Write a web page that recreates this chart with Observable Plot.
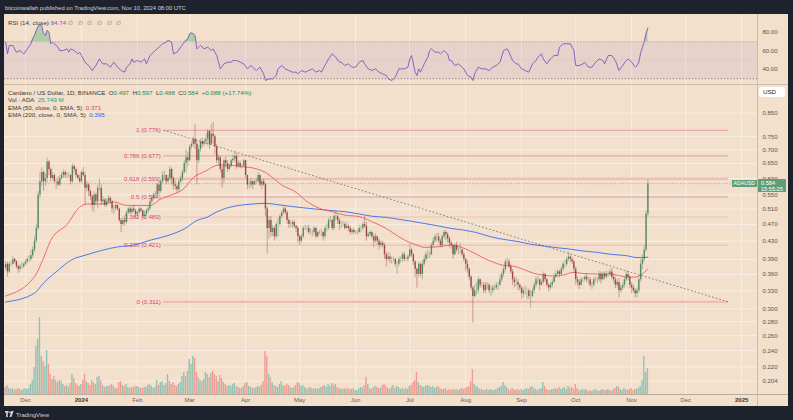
<!DOCTYPE html>
<html><head><meta charset="utf-8">
<script src="https://cdn.jsdelivr.net/npm/d3@7"></script>
<script src="https://cdn.jsdelivr.net/npm/@observablehq/plot@0.6"></script>
<style>
html,body{margin:0;padding:0;background:#1e222d;}
#wrap{position:relative;width:793px;height:420px;background:#1e222d;overflow:hidden;font-family:"Liberation Sans",Arial,sans-serif;}
#panel{position:absolute;left:4px;top:14px;width:784px;height:392px;background:#f2dfcc;}
.layer{position:absolute;left:0;top:0;}
.t{position:absolute;white-space:nowrap;font-size:6.2px;line-height:7.5px;color:#3d3a37;}
.ln{position:absolute;}
</style></head><body><div id="wrap"><div id="panel"></div></div>
<script>
// ---------- data ----------
const DAY = 864e5;
const firstDay = Date.UTC(2023, 10, 20);          // first daily candle: 2023-11-20
const firstOpen = 0.372;
const closes = [
.380,.365,.380,.380,.390,.385,.375,.370,.375,.375,.380,
.385,.390,.390,.398,.410,.430,.460,.550,.590,.620,.590,.600,.655,.630,.600,.610,.590,.590,.580,.600,.610,.620,.610,.610,.610,.590,.640,.630,.610,.600,.590,
.620,.610,.570,.580,.560,.545,.520,.550,.530,.570,.570,.530,.535,.520,.530,.540,.530,.510,.510,.520,.510,.480,.470,.480,.475,.500,.510,.500,.510,.505,.495,
.500,.510,.505,.490,.495,.505,.510,.530,.540,.550,.550,.580,.560,.590,.610,.610,.590,.600,.630,.600,.580,.575,.565,.590,.600,.620,.650,.670,.660,
.710,.720,.740,.720,.660,.700,.730,.720,.730,.740,.770,.720,.760,.750,.710,.660,.670,.630,.600,.660,.650,.630,.640,.660,.665,.675,.640,.650,.640,.640,.660,
.610,.580,.580,.590,.580,.590,.590,.610,.580,.590,.580,.510,.460,.480,.450,.460,.440,.470,.470,.490,.500,.510,.500,.480,.470,.470,.475,.465,.460,.440,
.430,.440,.460,.460,.460,.450,.450,.450,.460,.440,.450,.450,.450,.440,.460,.460,.480,.480,.460,.490,.490,.480,.470,.470,.470,.460,.465,.460,.450,.455,.450,
.450,.450,.460,.460,.470,.465,.440,.445,.450,.440,.430,.440,.430,.420,.425,.420,.400,.390,.395,.390,.390,.390,.380,.380,.390,.390,.400,.390,.390,.395,
.410,.400,.385,.370,.360,.380,.360,.380,.390,.400,.400,.400,.420,.430,.440,.440,.430,.420,.440,.450,.445,.435,.425,.420,.400,.420,.410,.410,.410,.400,.390,
.380,.370,.355,.335,.320,.330,.330,.350,.340,.340,.330,.340,.340,.330,.330,.335,.335,.340,.340,.350,.360,.370,.385,.385,.375,.365,.350,.345,.345,.340,.335,
.325,.330,.330,.330,.320,.320,.330,.340,.350,.350,.340,.345,.360,.350,.340,.335,.340,.345,.355,.360,.365,.360,.370,.380,.380,.390,.395,.390,.385,.370,
.350,.345,.340,.350,.350,.355,.350,.350,.340,.340,.350,.350,.350,.360,.350,.360,.355,.360,.360,.365,.355,.350,.340,.345,.330,.335,.340,.350,.360,.355,.340,
.335,.330,.325,.330,.350,.380,.390,.410,.497,.584];
const highs = [
.386,.384,.384,.386,.396,.392,.388,.378,.380,.384,.383,
.390,.395,.398,.410,.418,.440,.470,.560,.620,.635,.625,.615,.668,.660,.635,.620,.615,.600,.605,.610,.620,.628,.625,.620,.618,.612,.650,.646,.635,.615,.610,
.625,.635,.620,.590,.585,.565,.550,.560,.555,.580,.600,.580,.545,.540,.538,.548,.545,.535,.520,.525,.522,.512,.485,.488,.485,.505,.515,.515,.515,.520,.510,
.505,.515,.512,.508,.505,.510,.518,.538,.548,.555,.560,.585,.590,.595,.622,.625,.612,.610,.640,.635,.605,.592,.580,.595,.608,.628,.660,.700,.690,
.718,.730,.750,.800,.740,.715,.740,.745,.738,.760,.780,.775,.800,.810,.755,.720,.680,.675,.640,.665,.672,.660,.648,.665,.680,.690,.685,.660,.658,.648,.665,
.662,.612,.592,.600,.592,.595,.600,.620,.612,.595,.598,.585,.515,.490,.490,.468,.465,.475,.485,.495,.505,.515,.515,.505,.485,.478,.480,.480,.468,.465,
.445,.445,.465,.468,.466,.468,.460,.455,.465,.462,.452,.455,.458,.452,.465,.470,.485,.490,.482,.495,.506,.495,.485,.476,.478,.475,.475,.470,.465,.460,.460,
.455,.456,.468,.466,.475,.490,.475,.450,.455,.452,.445,.448,.442,.435,.430,.430,.425,.405,.405,.402,.395,.395,.392,.386,.395,.396,.405,.405,.395,.400,
.425,.415,.402,.388,.372,.385,.382,.388,.398,.405,.410,.405,.425,.438,.445,.448,.448,.435,.445,.455,.455,.450,.440,.430,.422,.425,.428,.415,.425,.412,.405,
.392,.388,.372,.358,.338,.340,.345,.355,.352,.345,.345,.345,.345,.343,.338,.340,.340,.345,.345,.360,.365,.375,.390,.392,.390,.380,.370,.355,.355,.350,.342,
.338,.335,.338,.335,.333,.330,.335,.345,.355,.356,.352,.350,.365,.362,.352,.342,.345,.350,.362,.366,.370,.368,.375,.385,.388,.395,.405,.398,.395,.388,
.375,.356,.350,.354,.354,.358,.362,.355,.354,.346,.354,.355,.354,.366,.365,.364,.365,.366,.365,.370,.372,.360,.355,.350,.352,.340,.344,.355,.366,.365,.358,
.345,.340,.334,.335,.355,.390,.400,.420,.505,.597];
const lows = [
.368,.355,.362,.375,.378,.381,.371,.362,.365,.370,.372,
.377,.382,.384,.386,.392,.405,.425,.455,.540,.575,.560,.575,.585,.610,.590,.595,.585,.565,.575,.575,.595,.600,.600,.600,.600,.580,.585,.620,.600,.595,.585,
.585,.605,.520,.560,.545,.535,.505,.500,.520,.510,.560,.520,.520,.515,.515,.525,.522,.500,.495,.505,.505,.475,.450,.465,.466,.470,.495,.495,.495,.500,.485,
.485,.495,.500,.485,.485,.490,.498,.505,.525,.535,.540,.545,.550,.555,.585,.595,.580,.585,.595,.580,.565,.565,.555,.560,.585,.590,.615,.620,.640,
.655,.700,.710,.700,.580,.650,.690,.705,.712,.720,.715,.700,.715,.720,.680,.650,.640,.620,.570,.585,.635,.620,.625,.635,.650,.655,.630,.635,.632,.632,.638,
.600,.565,.568,.570,.565,.578,.585,.588,.575,.565,.575,.490,.402,.435,.440,.440,.430,.435,.440,.465,.485,.495,.495,.470,.460,.462,.460,.460,.450,.425,
.420,.425,.437,.455,.452,.445,.445,.440,.445,.435,.438,.445,.440,.430,.435,.452,.455,.475,.455,.455,.478,.470,.455,.460,.465,.456,.458,.452,.445,.445,.445,
.446,.444,.448,.450,.455,.460,.430,.438,.440,.435,.415,.425,.420,.410,.415,.415,.390,.375,.385,.382,.380,.385,.375,.360,.375,.382,.385,.385,.386,.385,
.393,.395,.378,.355,.335,.355,.355,.350,.375,.385,.390,.392,.398,.415,.425,.428,.425,.415,.415,.435,.430,.425,.415,.412,.390,.398,.405,.400,.402,.395,.385,
.365,.362,.348,.330,.278,.318,.322,.325,.335,.335,.325,.325,.332,.325,.320,.325,.330,.332,.330,.338,.345,.355,.365,.378,.372,.360,.340,.335,.338,.330,.330,
.315,.318,.322,.315,.315,.300,.318,.325,.335,.342,.330,.338,.342,.345,.336,.328,.332,.335,.343,.352,.358,.354,.358,.366,.372,.376,.386,.384,.380,.362,
.340,.338,.332,.338,.345,.347,.345,.342,.336,.332,.336,.346,.343,.346,.342,.348,.350,.352,.355,.356,.350,.344,.334,.335,.318,.326,.330,.335,.346,.348,.334,
.325,.326,.318,.318,.326,.345,.370,.385,.405,.488];
const volumesM = [
7,9,6,5,6,4,5,6,5,4,5,6,5,6,
10,14,27,48,55,77,38,33,28,44,30,20,15,18,14,12,14,
13,10,8,9,7,11,20,16,11,9,8,
10,14,20,13,11,9,14,12,10,17,18,14,9,7,8,8,9,10,8,6,6,12,13,9,8,10,7,6,7,7,8,
8,7,6,6,7,7,9,10,8,6,7,14,9,12,13,9,11,20,13,10,12,9,8,10,12,18,22,18,23,
35,30,38,36,22,17,14,13,15,22,20,17,21,23,20,18,13,19,16,12,10,8,9,8,10,11,8,7,6,6,8,
11,12,8,7,6,6,7,8,7,9,13,43,38,20,17,12,9,8,7,10,13,9,8,10,9,7,6,7,9,12,
11,8,9,7,5,6,7,6,5,6,5,6,7,8,9,7,10,8,11,9,10,7,6,5,5,6,5,6,5,5,6,
4,4,6,7,6,9,17,10,6,5,7,8,7,6,6,9,10,8,6,5,7,9,6,8,7,5,6,5,6,5,
8,9,12,14,22,12,9,8,7,8,9,8,7,8,6,7,8,6,5,5,6,4,5,4,5,4,5,4,5,6,5,
6,7,8,13,25,10,8,7,5,5,4,4,5,4,5,4,4,5,6,7,8,12,9,7,5,4,6,5,4,5,4,
5,4,5,6,5,7,8,6,5,4,5,6,12,8,5,4,4,5,5,6,5,7,5,6,7,5,8,6,7,5,
10,6,4,4,5,4,5,3,4,3,4,5,4,3,4,5,4,4,5,4,3,5,6,8,7,5,4,6,5,4,5,
6,4,5,5,6,8,14,38,22,25.749];
// EMA 50 (red) and EMA 200 (blue): [day offset from first candle, value]
const emaFast = [[0,.321],[16,.356],[21,.393],[25,.432],[34,.47],[41,.515],[45,.524],[53,.524],[60,.53],[67,.52],[75,.52],[80,.52],[86,.538],[91,.548],[99,.57],[104,.603],[111,.625],[116,.642],[118,.645],[124,.645],[129,.64],[135,.637],[140,.63],[144,.62],[148,.603],[153,.58],[161,.558],[166,.535],[174,.512],[181,.503],[188,.494],[196,.49],[203,.477],[211,.46],[218,.44],[224,.427],[228,.421],[232,.416],[239,.417],[247,.421],[252,.417],[258,.407],[265,.393],[272,.382],[276,.378],[282,.376],[287,.37],[293,.362],[298,.359],[304,.357],[309,.359],[315,.364],[320,.362],[328,.361],[335,.361],[343,.356],[348,.355],[352,.359],[354,.364],[356,.371]];
const emaSlow = [[0,.311],[16,.326],[21,.344],[29,.368],[36,.388],[45,.40],[53,.409],[62,.417],[71,.421],[80,.432],[90,.443],[99,.459],[106,.48],[112,.489],[116,.50],[122,.512],[129,.52],[137,.524],[144,.526],[151,.522],[159,.517],[166,.513],[174,.509],[181,.506],[188,.503],[196,.497],[203,.491],[211,.488],[218,.483],[225,.478],[230,.474],[239,.467],[247,.46],[254,.456],[261,.45],[269,.44],[276,.434],[284,.429],[291,.423],[298,.419],[306,.415],[313,.412],[320,.408],[328,.405],[335,.401],[344,.398],[350,.394],[354,.394],[356,.395]];
// RSI(14): [day offset, value]
const rsiPoints = [[0,69.6],[1,56.9],[2,65.9],[4,65.9],[6,58.7],[8,60.5],[10,56.9],[12,62.3],[14,67.8],[15,73.2],[16,76.8],[17,82.2],[18,86.5],[19,88.7],[20,87.6],[21,78.6],[22,76.8],[23,82.2],[24,80.4],[25,67.8],[26,69.6],[28,65.9],[29,64.1],[30,60.5],[32,60.5],[34,62.3],[35,58.7],[36,62.3],[38,60.5],[40,56.9],[41,58.7],[42,55.1],[44,47.9],[46,44.3],[48,38.9],[50,44.3],[52,51.5],[53,47.9],[54,46.1],[56,46.1],[58,42.5],[60,47.9],[62,42.5],[64,38.9],[66,37.1],[67,42.5],[69,46.1],[70,51.5],[71,47.9],[73,49.7],[75,47.9],[77,51.5],[78,46.1],[80,55.1],[82,58.7],[83,60.5],[85,64.1],[87,67.8],[89,69.6],[90,71.4],[92,69.6],[93,56.9],[95,58.7],[97,64.1],[99,69.6],[101,73.2],[102,78.6],[103,79.6],[104,78.6],[105,76.8],[106,62.3],[107,64.1],[108,65.9],[110,62.3],[112,64.1],[114,60.5],[115,62.3],[117,55.1],[119,40.7],[121,46.1],[123,47.9],[125,47.9],[126,49.7],[128,49.7],[130,47.9],[132,46.1],[134,40.7],[136,44.3],[138,40.7],[139,38.9],[141,42.5],[143,35.3],[144,28.1],[146,29.9],[148,29.9],[150,33.5],[151,40.7],[153,44.3],[155,40.7],[157,38.9],[159,37.1],[161,37.1],[162,35.3],[164,38.9],[166,37.1],[168,38.9],[170,40.7],[172,37.1],[174,38.9],[175,37.1],[177,44.3],[179,51.5],[181,56.9],[183,53.3],[185,47.9],[186,47.9],[188,44.3],[190,46.1],[192,42.5],[194,42.5],[196,47.9],[198,49.7],[199,46.1],[201,40.7],[203,38.9],[205,40.7],[207,37.1],[209,35.3],[211,33.5],[212,29.9],[214,28.1],[216,31.7],[218,40.7],[221,40.7],[223,42.5],[224,51.5],[225,55.1],[226,46.1],[227,37.1],[228,33.5],[229,40.7],[230,37.1],[232,46.1],[234,53.3],[235,60.5],[236,62.3],[238,58.7],[240,58.7],[241,56.9],[243,60.5],[245,56.9],[246,49.7],[247,49.7],[249,44.3],[251,46.1],[254,40.7],[256,33.5],[258,31.7],[259,28.1],[260,35.3],[262,42.5],[264,40.7],[266,40.7],[268,38.9],[270,42.5],[272,44.3],[274,47.9],[276,60.5],[278,62.3],[279,58.7],[281,49.7],[283,46.1],[284,46.1],[286,40.7],[288,38.9],[290,37.1],[292,46.1],[294,49.7],[295,53.3],[297,56.9],[298,51.5],[300,46.1],[302,51.5],[304,55.1],[306,55.1],[307,64.1],[309,67.8],[311,67.8],[313,67.8],[315,60.5],[316,44.3],[318,44.3],[320,46.1],[321,47.9],[323,42.5],[325,42.5],[327,47.9],[329,51.5],[331,49.7],[332,46.1],[334,55.1],[336,55.1],[338,49.7],[340,38.9],[342,44.3],[344,49.7],[345,51.5],[347,47.9],[349,42.5],[350,44.3],[351,48],[352,58],[353,64],[354,70],[355,79],[356,84.74]];
// Fibonacci retracement drawing and trend line
const fibLevels = [1, 0.786, 0.618, 0.5, 0.382, 0.236, 0];
const fibPrices = [0.776, 0.677, 0.599, 0.544, 0.489, 0.421, 0.311];
const fibSpan = ["2024-02-15T16:00Z", "2024-12-24T17:00Z"];
const trendDates = ["2024-02-15T16:00Z", "2024-12-24T17:00Z"];
const trendPrices = [0.776, 0.311];
// axis ticks
const priceTicks = [0.850,0.750,0.700,0.650,0.600,0.550,0.510,0.470,0.430,0.390,0.360,0.330,0.300,0.280,0.260,0.240,0.220,0.204];
const rsiTicks = [80, 60, 40];
const timeTicks = ["2023-12-01","2024-01-01","2024-02-01","2024-03-01","2024-04-01","2024-05-01","2024-06-01","2024-07-01","2024-08-01","2024-09-01","2024-10-01","2024-11-01","2024-12-01","2025-01-01"];
const timeLabels = ["Dec","2024","Feb","Mar","Apr","May","Jun","Jul","Aug","Sep","Oct","Nov","Dec","2025"];

// ---------- build tables ----------
const day = i => new Date(firstDay + i * DAY);
const candles = closes.map((c, i) => {
  const o = i ? closes[i - 1] : firstOpen;
  return {date: day(i), o, c, h: Math.max(highs[i], o, c), l: Math.min(lows[i], o, c), v: volumesM[i], up: c >= o};
});
const ups = candles.filter(d => d.up), downs = candles.filter(d => !d.up);
const fastRows = emaFast.map(([i, v]) => ({date: day(i), v}));
const slowRows = emaSlow.map(([i, v]) => ({date: day(i), v}));
const rsiRows = rsiPoints.map(([i, r]) => ({date: day(i), r}));
const fibRows = fibLevels.map((lv, k) => ({level: lv, price: fibPrices[k], from: new Date(fibSpan[0]), to: new Date(fibSpan[1]), label: `${lv} (${fibPrices[k].toFixed(3)})`}));
const trendRows = trendDates.map((d, k) => ({date: new Date(d), price: trendPrices[k]}));
const tickDates = timeTicks.map(d => new Date(d + "T00:00Z"));
const labelOf = new Map(tickDates.map((d, k) => [+d, timeLabels[k]]));
const yearDates = tickDates.filter(d => d.getUTCMonth() === 0);
const monDates = tickDates.filter(d => d.getUTCMonth() !== 0);
const lastClose = closes[closes.length - 1];

const xDom = [new Date(Date.UTC(2023, 11, 1) - 11.641 * DAY), new Date(Date.UTC(2023, 11, 1) + 406.32 * DAY)];
const base = {width: 793, height: 420, marginLeft: 4, marginRight: 35,
  style: {background: "transparent", fontFamily: "Liberation Sans, Arial, sans-serif", overflow: "visible"}};
const GRID = "#f8eee5";
const UP = "#3c7a4f", DN = "#8a2f2f";

const fibStyle = lv => (lv === 0.618 || lv === 0) ? {stroke: "#efbdb4", w: 2.2}
  : (lv === 0.382 || lv === 0.236) ? {stroke: "#ebc1b6", w: 1.2} : {stroke: "#e49ea0", w: 1};

// ---------- main price pane ----------
const main = Plot.plot({...base, marginTop: 85, marginBottom: 26,
  x: {type: "utc", domain: xDom, axis: null},
  y: {type: "log", domain: [0.19, 0.985], axis: null},
  marks: [
    Plot.ruleX(tickDates, {stroke: GRID, strokeWidth: 1}),
    Plot.ruleY(priceTicks, {stroke: GRID, strokeWidth: 1}),
    ...fibRows.map(r => { const s = fibStyle(r.level); return Plot.ruleY([r], {y: "price", x1: "from", x2: "to", stroke: s.stroke, strokeWidth: s.w}); }),
    Plot.text(fibRows, {x: "from", y: "price", text: "label", textAnchor: "end", dx: -3, fill: "#d8446b", fontSize: 6.2}),
    Plot.ruleY([lastClose], {stroke: "#7da889", strokeDasharray: "1,1.6", strokeWidth: 0.8}),
    Plot.line(trendRows, {x: "date", y: "price", stroke: "#6b6460", strokeDasharray: "0.9,2.8", strokeWidth: 0.9, strokeOpacity: 0.85}),
    Plot.line(slowRows, {x: "date", y: "v", stroke: "#3d6af0", strokeWidth: 0.9, curve: "monotone-x"}),
    Plot.line(fastRows, {x: "date", y: "v", stroke: "#f05a62", strokeWidth: 0.9, curve: "monotone-x"}),
    Plot.ruleX(ups, {x: "date", y1: "l", y2: "h", stroke: UP, strokeWidth: 0.7, strokeOpacity: 0.55}),
    Plot.ruleX(downs, {x: "date", y1: "l", y2: "h", stroke: DN, strokeWidth: 0.7, strokeOpacity: 0.55}),
    Plot.ruleX(ups, {x: "date", y1: "o", y2: "c", stroke: UP, strokeWidth: 1.4, strokeOpacity: 0.78}),
    Plot.ruleX(downs, {x: "date", y1: "o", y2: "c", stroke: DN, strokeWidth: 1.4, strokeOpacity: 0.78}),
    Plot.axisY(priceTicks, {anchor: "right", tickSize: 0, tickPadding: 4, tickFormat: d3.format(".3f"), fontSize: 6, color: "#5a5550", label: null}),
    Plot.axisX(monDates, {anchor: "bottom", tickSize: 0, tickPadding: 3.5, tickFormat: d => labelOf.get(+d), fontSize: 6, color: "#6a625a", label: null}),
    Plot.axisX(yearDates, {anchor: "bottom", tickSize: 0, tickPadding: 3.5, tickFormat: d => labelOf.get(+d), fontSize: 6, fontWeight: "bold", color: "#3a3632", label: null})
  ]});

// ---------- volume overlay ----------
const vol = Plot.plot({...base, marginTop: 85, marginBottom: 26,
  x: {type: "utc", domain: xDom, axis: null},
  y: {domain: [0, 309], axis: null},
  marks: [
    Plot.rectY(ups, {x1: d => new Date(+d.date - 0.38 * DAY), x2: d => new Date(+d.date + 0.38 * DAY), y: "v", fill: "#8fc3b4"}),
    Plot.rectY(downs, {x1: d => new Date(+d.date - 0.38 * DAY), x2: d => new Date(+d.date + 0.38 * DAY), y: "v", fill: "#f09c91"})
  ]});

// ---------- RSI pane ----------
const rsi = Plot.plot({...base, marginTop: 14, marginBottom: 336,
  x: {type: "utc", domain: xDom, axis: null},
  y: {domain: [23.78, 99.46], axis: null},
  marks: [
    Plot.ruleX(tickDates, {stroke: GRID, strokeWidth: 1}),
    Plot.rect([{a: 30, b: 70}], {x1: xDom[0], x2: xDom[1], y1: "a", y2: "b", fill: "#7e57c2", fillOpacity: 0.1}),
    Plot.ruleY([70], {stroke: "#b7a6a3", strokeDasharray: "1.2,2"}),
    Plot.ruleY([50], {stroke: "#c4b1aa", strokeDasharray: "1,2.5", strokeOpacity: 0.6}),
    Plot.ruleY([30], {stroke: "#7d7470", strokeDasharray: "1.2,2"}),
    Plot.areaY(rsiRows, {x: "date", y1: 70, y2: d => Math.max(70, d.r), fill: "#5cb870", fillOpacity: 0.45}),
    Plot.line(rsiRows, {x: "date", y: "r", stroke: "#7e57c2", strokeWidth: 0.9}),
    Plot.axisY(rsiTicks, {anchor: "right", tickSize: 0, tickPadding: 4, tickFormat: d3.format(".2f"), fontSize: 6, color: "#5a5550", label: null})
  ]});

const wrap = document.getElementById("wrap");
for (const p of [rsi, main, vol]) { p.classList.add("layer"); wrap.appendChild(p); }

// ---------- frame lines & text overlays ----------
function el(cls, css, html) { const d = document.createElement("div"); d.className = cls; d.style.cssText = css; if (html != null) d.innerHTML = html; wrap.appendChild(d); return d; }
el("ln", "left:4px;top:84px;width:784px;height:1px;background:#cdbcab;");
el("ln", "left:757px;top:14px;width:1px;height:392px;background:#cdbcab;");
el("ln", "left:4px;top:394px;width:784px;height:1px;background:#bcab9a;");

el("t", "left:5px;top:5px;font-size:5.8px;color:#d1d4dc;", "bitcoinwallah published on TradingView.com, Nov 10, 2024 08:00 UTC");
el("t", "left:8px;top:18.5px;", 'RSI (14, close) <span style="color:#7e57c2">84.74</span> <span style="color:#8a8480;letter-spacing:1.5px">&#8709; &#8709; &#8709; &#8709; &#8709; &#8709;</span>');
const G = "#1f8a5e";
el("t", "left:8px;top:88.6px;", `Cardano / US Dollar, 1D, BINANCE&nbsp; O<span style="color:${G}">0.497</span>&nbsp; H<span style="color:${G}">0.597</span>&nbsp; L<span style="color:${G}">0.488</span>&nbsp; C<span style="color:${G}">0.584</span>&nbsp; <span style="color:${G}">+0.088 (+17.74%)</span>`);
el("t", "left:8px;top:96px;", 'Vol · ADA&nbsp; <span style="color:#2a9d84">25.749 M</span>');
el("t", "left:8px;top:103.5px;", 'EMA (50, close, 0, EMA, 5)&nbsp; <span style="color:#e8434f">0.371</span>');
el("t", "left:8px;top:111px;", 'EMA (200, close, 0, SMA, 5)&nbsp; <span style="color:#2f63e8">0.395</span>');

el("t", "left:759px;top:87px;width:26px;height:10px;background:#fff;border-radius:2px;line-height:10px;padding-left:4px;box-sizing:border-box;font-size:6.2px;color:#222;", "USD");

const yLast = main.scale("y").apply(lastClose);
el("t", `left:732px;top:${yLast - 3.6}px;width:25px;height:7.4px;background:#5e9f78;color:#fff;font-size:5.2px;line-height:7.4px;padding-left:1.5px;box-sizing:border-box;overflow:hidden;`, "ADAUSD");
el("t", `left:758px;top:${yLast - 3.7}px;width:28px;height:12.6px;background:#5e9f78;color:#fff;font-size:5.6px;line-height:6px;padding:0.6px 0 0 3px;box-sizing:border-box;border-radius:0 1px 1px 0;`, "0.584<br>15:55:25");

el("t", "left:5px;top:410.5px;font-size:6px;color:#d1d4dc;line-height:7px;", '<svg width="9" height="6" style="vertical-align:-0.5px;margin-right:2px"><rect x="0" y="0" width="3.6" height="1.6" fill="#d1d4dc"/><rect x="1.2" y="0" width="1.6" height="6" fill="#d1d4dc"/><circle cx="5" cy="1.3" r="0.9" fill="#d1d4dc"/><polygon points="6.2,0 8.6,0 6.4,6 4.6,6" fill="#d1d4dc"/></svg>TradingView');
</script>
</body></html>
